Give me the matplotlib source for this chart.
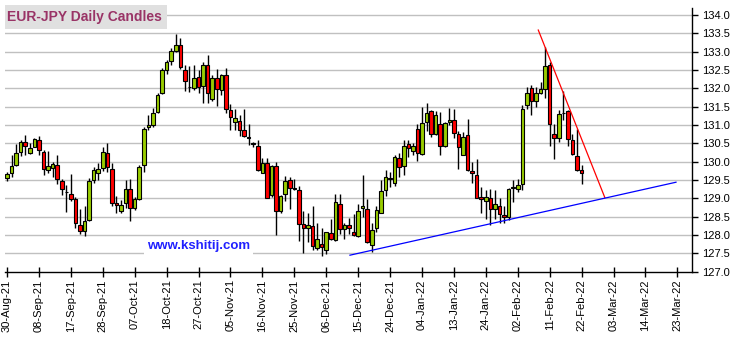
import matplotlib
matplotlib.use("Agg")
import matplotlib.pyplot as plt
import numpy as np
from matplotlib.patches import Rectangle

plt.rcParams['font.family'] = ['Liberation Sans', 'DejaVu Sans']

# daily candles, 30-Aug-21 .. 22-Feb-22 (one per weekday)
opens = [129.55, 129.69, 129.90, 130.26, 130.54, 130.24, 130.40, 130.60, 130.27, 129.77,
         129.84, 129.91, 129.47, 129.18, 129.12, 128.98, 128.27, 128.10, 128.40, 129.50,
         129.69, 129.83, 130.25, 129.80, 128.87, 128.65, 128.87, 129.25, 128.73, 128.98,
         129.91, 130.95, 131.01, 131.35, 131.86, 132.49, 132.74, 133.02, 133.18, 132.51,
         132.05, 132.01, 132.32, 132.06, 132.65, 131.72, 132.27, 131.95, 132.36, 131.41,
         131.08, 131.12, 130.87, 130.67, 130.50, 130.43, 129.70, 129.97, 129.09, 129.88,
         128.65, 129.12, 129.51, 129.28, 129.24, 128.29, 128.18, 128.25, 127.64, 127.75,
         127.58, 128.05, 127.86, 128.84, 128.16, 128.27, 128.07, 127.96, 128.73, 128.70,
         127.74, 128.19, 128.61, 129.23, 129.55, 129.42, 130.10, 129.88, 130.47, 130.28,
         130.90, 130.21, 131.08, 131.39, 130.76, 131.03, 130.42, 131.09, 131.14, 130.76,
         130.19, 130.73, 129.75, 129.65, 129.03, 128.92, 129.00, 128.71, 128.79, 128.54,
         128.50, 129.30, 129.25, 129.39, 131.55, 132.02, 131.66, 131.88, 131.99, 132.63,
         130.76, 130.65, 131.32, 131.37, 130.60, 130.16, 129.77]
highs = [129.73, 130.17, 130.47, 130.60, 130.74, 130.51, 130.65, 130.70, 130.32, 130.28,
         129.98, 130.19, 129.53, 129.36, 129.67, 129.05, 128.71, 128.80, 129.55, 129.86,
         129.97, 130.39, 130.50, 129.97, 129.07, 128.96, 129.50, 129.54, 129.03, 129.91,
         130.94, 131.26, 131.46, 131.87, 132.56, 132.78, 133.09, 133.47, 133.36, 132.63,
         132.60, 132.63, 132.51, 132.71, 132.92, 132.36, 132.54, 132.38, 132.56, 131.57,
         131.45, 131.28, 131.43, 131.02, 130.53, 130.60, 130.10, 130.10, 129.91, 130.00,
         129.09, 129.60, 129.59, 129.53, 129.34, 128.66, 128.61, 128.80, 128.34, 128.20,
         128.09, 128.45, 129.12, 129.12, 128.34, 128.46, 128.57, 128.84, 129.65, 128.98,
         128.34, 128.80, 129.50, 129.76, 129.71, 130.17, 130.24, 130.58, 130.58, 130.50,
         131.02, 131.49, 131.61, 131.42, 131.37, 131.35, 131.08, 131.47, 131.44, 130.84,
         130.81, 131.17, 130.00, 130.08, 129.30, 129.23, 129.25, 129.23, 129.01, 128.80,
         129.27, 129.51, 129.53, 131.55, 132.04, 132.08, 132.04, 132.16, 133.13, 132.71,
         131.02, 131.40, 131.92, 131.40, 130.76, 130.90, 129.91]
lows = [129.46, 129.57, 129.87, 130.15, 130.17, 130.22, 130.39, 130.18, 129.65, 129.68,
        129.57, 129.39, 129.09, 128.64, 128.94, 128.19, 128.02, 127.96, 128.39, 129.42,
        129.50, 129.74, 129.71, 128.80, 128.59, 128.60, 128.75, 128.39, 128.68, 128.95,
        129.71, 130.86, 130.94, 131.34, 131.84, 132.38, 132.65, 133.00, 132.54, 131.94,
        131.90, 131.96, 131.86, 131.60, 131.60, 131.65, 131.51, 131.81, 131.34, 130.87,
        130.87, 130.70, 130.67, 130.46, 130.40, 129.74, 129.68, 129.00, 129.05, 128.01,
        128.59, 128.92, 128.72, 129.23, 127.84, 127.52, 127.81, 127.59, 127.59, 127.43,
        127.49, 127.86, 127.84, 128.02, 127.88, 128.04, 127.97, 127.95, 128.48, 127.79,
        127.55, 128.09, 128.59, 129.07, 129.30, 129.34, 129.57, 129.65, 130.14, 130.17,
        130.03, 130.19, 130.85, 130.67, 130.73, 130.17, 130.39, 130.99, 130.64, 129.79,
        130.17, 129.74, 129.41, 129.00, 128.59, 128.43, 128.28, 128.45, 128.32, 128.34,
        128.41, 128.91, 129.16, 129.23, 131.43, 131.26, 131.49, 131.84, 131.74, 130.42,
        130.06, 130.53, 131.13, 130.42, 130.18, 129.75, 129.38]
closes = [129.66, 129.88, 130.24, 130.54, 130.43, 130.38, 130.62, 130.32, 129.80, 129.88,
          129.95, 129.53, 129.25, 129.16, 128.98, 128.32, 128.10, 128.38, 129.48, 129.77,
          129.80, 130.27, 129.86, 128.87, 128.81, 128.81, 129.25, 128.73, 128.98, 129.86,
          130.90, 131.01, 131.34, 131.83, 132.51, 132.71, 133.02, 133.18, 132.57, 132.21,
          132.03, 132.27, 132.05, 132.65, 131.86, 132.27, 131.97, 132.36, 131.45, 131.23,
          131.20, 130.87, 130.69, 130.65, 130.48, 129.77, 129.97, 129.02, 129.88, 128.65,
          129.06, 129.48, 129.29, 129.25, 128.29, 128.18, 128.27, 127.69, 127.88, 127.68,
          128.07, 127.90, 128.89, 128.16, 128.27, 128.18, 128.00, 128.65, 128.79, 127.82,
          128.13, 128.68, 129.20, 129.58, 129.53, 130.13, 129.86, 130.43, 130.38, 130.43,
          130.24, 131.06, 131.34, 130.76, 131.28, 130.43, 131.06, 131.14, 130.79, 130.40,
          130.68, 129.77, 129.68, 129.02, 128.97, 129.03, 128.71, 128.84, 128.56, 128.48,
          129.26, 129.28, 129.36, 131.44, 131.88, 131.66, 131.88, 131.97, 132.60, 131.02,
          130.65, 131.31, 131.34, 130.61, 130.21, 129.78, 129.68]

tick_labels = ["30-Aug-21", "08-Sep-21", "17-Sep-21", "28-Sep-21", "07-Oct-21", "18-Oct-21",
               "27-Oct-21", "05-Nov-21", "16-Nov-21", "25-Nov-21", "06-Dec-21", "15-Dec-21",
               "24-Dec-21", "04-Jan-22", "13-Jan-22", "24-Jan-22", "02-Feb-22", "11-Feb-22",
               "22-Feb-22", "03-Mar-22", "14-Mar-22", "23-Mar-22"]
tick_step = 7  # trading days between labels

# trend lines (day index, price)
red_line_x = [116.5, 131.1]
red_line_y = [133.59, 129.02]
blue_line_x = [75.2, 146.7]
blue_line_y = [127.45, 129.44]

o = np.array(opens)
h = np.array(highs)
l = np.array(lows)
c = np.array(closes)
x = np.arange(len(o))

fig = plt.figure(figsize=(7.33, 3.37), dpi=100)
ax = fig.add_axes([0.0071, 0.1938, 0.9369, 0.7834])

ax.set_xlim(-0.4, 150.2)
ax.set_ylim(127.0, 134.2)

for y in np.arange(127.5, 134.01, 0.5):
    ax.axhline(y, color="#c0c0c0", lw=1.0, zorder=0)

ax.vlines(x, l, h, color="black", lw=1.0, zorder=2)
up = c > o
body_bot = np.minimum(o, c)
body_h = np.maximum(np.abs(c - o), 0.015)
colors = np.where(up, "#99cc00", "#ff0000")
doji = np.abs(c - o) < 0.03
colors = np.where(doji, "black", colors)
ax.bar(x, body_h, bottom=body_bot, width=0.78, color=colors,
       edgecolor="black", linewidth=0.8, zorder=3)

ax.plot(red_line_x, red_line_y, color="#ff0000", lw=0.9, zorder=4)
ax.plot(blue_line_x, blue_line_y, color="#0000ff", lw=0.9, zorder=4)

ax.text(30.7, 127.69, "www.kshitij.com", color="#2020ff", fontsize=9.5,
        fontweight="bold", va="center", ha="left", zorder=5,
        bbox=dict(boxstyle="square,pad=0.25", fc="white", ec="none"))

for s in ("left", "top"):
    ax.spines[s].set_visible(False)
ax.spines["right"].set_linewidth(1.0)
ax.spines["bottom"].set_linewidth(1.0)

ax.yaxis.tick_right()
ax.set_yticks(np.arange(127.0, 134.01, 0.5))
ax.set_yticklabels([f"{v:.1f}" for v in np.arange(127.0, 134.01, 0.5)])
ax.tick_params(axis="y", direction="out", length=4, width=1, labelsize=8, pad=3)

ax.set_xticks(np.arange(len(tick_labels)) * tick_step)
ax.set_xticklabels(tick_labels, rotation=90)
ax.tick_params(axis="x", direction="inout", length=7, width=1, labelsize=8, pad=2)

# title box
fig.patches.append(Rectangle((5 / 733, 1 - 29 / 337), 162 / 733, 24 / 337,
                             transform=fig.transFigure, fc="#e0e0e0", ec="none", zorder=10))
fig.text(7 / 733, 1 - 17 / 337, "EUR-JPY Daily Candles", color="#993366",
         fontsize=10, fontweight="bold", va="center", ha="left", zorder=11)

fig.savefig("out.png", dpi=100)
